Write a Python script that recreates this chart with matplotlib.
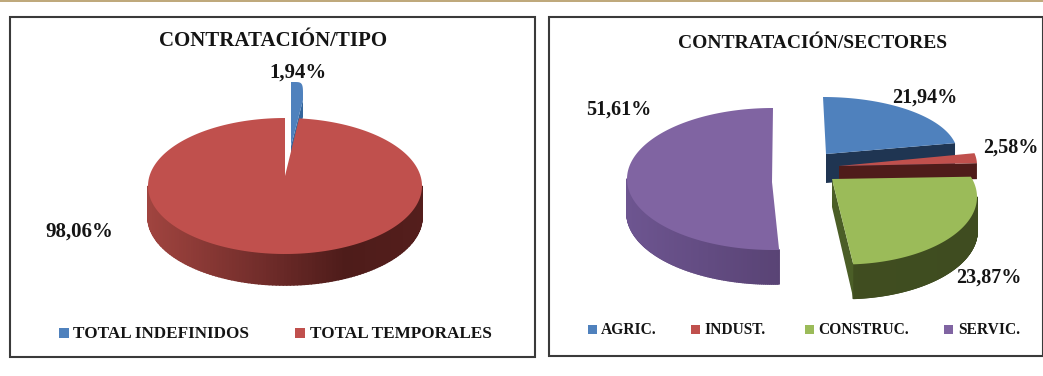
"""Two exploded 3D-look pies: hiring by contract type and by sector."""
import matplotlib

matplotlib.use("Agg")
import matplotlib.pyplot as plt
import numpy as np
from matplotlib.collections import PolyCollection
from matplotlib.colors import LinearSegmentedColormap
from matplotlib.patches import Polygon, Rectangle

tipo_labels = ["TOTAL INDEFINIDOS", "TOTAL TEMPORALES"]
tipo_values = [1.94, 98.06]

sector_labels = ["AGRIC.", "INDUST.", "CONSTRUC.", "SERVIC."]
sector_values = [21.94, 2.58, 23.87, 51.61]

BLUE, RED, GREEN, PURPLE = "#4f81bd", "#c0504d", "#9bbb59", "#8064a2"
FONT = "Liberation Serif"
INK = "#141414"


def rim(geo, phi):
    power = geo.get("power", 1.0)
    s, c = np.sin(phi), np.cos(phi)
    return (
        geo["cx"] + geo["rx"] * np.sign(s) * np.abs(s) ** power,
        geo["cy"] - geo["ry"] * np.sign(c) * np.abs(c) ** power,
    )


def draw_slice(ax, value, color, geo):
    """Draw one slice; value sets the sweep, geo the (perspective) placement."""
    sweep = value / 100 * 2 * np.pi
    phi0 = np.radians(geo["phi0"])
    phis = np.linspace(phi0, phi0 + sweep * geo["scale"], 240)
    xs, ys = rim(geo, phis)
    depth = geo["depth"]
    hub = (geo["hx"], geo["hy"])

    # outer wall, only the part of the rim that faces the viewer
    front = (phis > np.pi / 2) & (phis < 3 * np.pi / 2)
    if front.sum() > 1 and "wall" in geo:
        cmap = LinearSegmentedColormap.from_list("wall", geo["wall"])
        fx, fy = xs[front], ys[front]
        quads = [
            [(fx[i], fy[i]), (fx[i + 1], fy[i + 1]), (fx[i + 1], fy[i + 1] + depth), (fx[i], fy[i] + depth)]
            for i in range(len(fx) - 1)
        ]
        shade = cmap((fx[:-1] - geo["cx"] + geo["rx"]) / (2 * geo["rx"]))
        ax.add_collection(PolyCollection(quads, facecolors=shade, edgecolors=shade, linewidths=1.2))

    # flat cut face below the leading edge
    if "cut" in geo:
        ax.add_patch(Polygon(
            [hub, (xs[-1], ys[-1]), (xs[-1], ys[-1] + depth), (hub[0], hub[1] + geo.get("hub_depth", depth))],
            closed=True, facecolor=geo["cut"], edgecolor="none",
        ))

    top = np.column_stack([np.r_[hub[0], xs], np.r_[hub[1], ys]])
    ax.add_patch(Polygon(top, closed=True, facecolor=color, edgecolor="none"))


def percent(value):
    return f"{value:.2f}%".replace(".", ",")


def panel(ax, x0, y0, x1, y1):
    ax.add_patch(Rectangle((x0, y0), x1 - x0, y1 - y0, facecolor="white", edgecolor="#3a3a3a", linewidth=1.5))


def legend(ax, labels, colors, swatch_x, text_x, y, size, fontsize):
    for label, color, sx, tx in zip(labels, colors, swatch_x, text_x):
        ax.add_patch(Rectangle((sx, y - size / 2), size, size, facecolor=color, edgecolor="none"))
        ax.text(tx, y + 1, label, ha="left", va="center", fontsize=fontsize, fontweight="bold", family=FONT, color=INK)


fig = plt.figure(figsize=(10.43, 3.76), dpi=100)
ax = fig.add_axes([0, 0, 1, 1])
ax.set_xlim(0, 1043)
ax.set_ylim(376, 0)
ax.axis("off")

# tan rule along the top of the page
ax.add_patch(Rectangle((0, 0), 1043, 1.5, facecolor="#bfa97c", edgecolor="none"))

panel(ax, 10, 17, 535, 357)
panel(ax, 549, 17, 1043, 356)

tipo_geo = [
    dict(cx=291, cy=100, rx=12, ry=18, hx=291, hy=146, depth=17, phi0=0, scale=90 / (1.94 * 3.6), power=0.35, cut="#33659c"),
    dict(cx=285, cy=186, rx=137, ry=68, hx=285, hy=176, depth=31, phi0=5.9, scale=354.1 / (98.06 * 3.6),
         wall=[(0.0, "#a0443f"), (0.45, "#6e2b29"), (0.72, "#4e1c1a"), (1.0, "#541e1c")]),
]
sector_geo = [
    dict(cx=823, cy=154, rx=134.5, ry=57, hx=826, hy=154, depth=29, phi0=0, scale=1.0, cut="#1f3552"),
    dict(cx=839, cy=165, rx=138, ry=62, hx=839, hy=166, depth=16, phi0=79, scale=1.0, cut="#4f1c1a"),
    dict(cx=844, cy=197, rx=133, ry=67.5, hx=832, hy=179, depth=34, phi0=72.5, scale=103.5 / (23.87 * 3.6),
         hub_depth=28, cut="#4b5e27", wall=[(0.0, "#55692c"), (0.15, "#55692c"), (0.4, "#404e20"), (1.0, "#3f4c20")]),
    dict(cx=773, cy=179, rx=146, ry=71, hx=772, hy=182, depth=34, phi0=177.6, scale=182.4 / (51.61 * 3.6),
         wall=[(0.0, "#6d5590"), (0.5, "#5a4476"), (1.0, "#47365c")]),
]

for value, color, geo in zip(tipo_values, [BLUE, RED], tipo_geo):
    draw_slice(ax, value, color, geo)
for value, color, geo in zip(sector_values, [BLUE, RED, GREEN, PURPLE], sector_geo):
    draw_slice(ax, value, color, geo)

ax.text(273.5, 41, "CONTRATACIÓN/TIPO", ha="center", va="center", fontsize=15, fontweight="bold", family=FONT, color=INK)
ax.text(813, 44, "CONTRATACIÓN/SECTORES", ha="center", va="center", fontsize=14, fontweight="bold", family=FONT, color=INK)

for value, x, y in zip(tipo_values, [298, 79.5], [73, 232]):
    ax.text(x, y, percent(value), ha="center", va="center", fontsize=15, fontweight="bold", family=FONT, color=INK)
for value, x, y in zip(sector_values, [925, 1011, 989, 619], [98, 148, 278, 110]):
    ax.text(x, y, percent(value), ha="center", va="center", fontsize=14.5, fontweight="bold", family=FONT, color=INK)

legend(ax, tipo_labels, [BLUE, RED], [58.5, 295], [73, 310], 332.5, 10, 12.3)
legend(ax, sector_labels, [BLUE, RED, GREEN, PURPLE], [588, 691, 805, 944], [601, 704, 818, 958], 329, 9, 11.2)

fig.savefig("out.png", dpi=100)
